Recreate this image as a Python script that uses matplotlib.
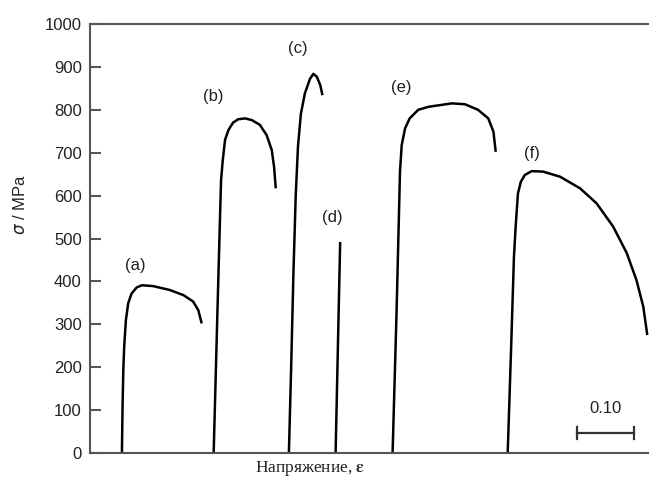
import matplotlib
matplotlib.use("Agg")
import matplotlib.pyplot as plt

# strain (shifted so the curves sit side by side) and stress in MPa
strain_a = [0.056, 0.057, 0.0584, 0.060, 0.063, 0.067, 0.073, 0.082, 0.091, 0.111, 0.140, 0.164, 0.181, 0.190, 0.196]
stress_a = [0, 100, 193, 248, 310, 349, 372, 386, 391, 389, 380, 368, 353, 333, 302]

strain_b = [0.217, 0.223, 0.229, 0.230, 0.233, 0.237, 0.243, 0.251, 0.260, 0.272, 0.284, 0.298, 0.310, 0.319, 0.323, 0.326]
stress_b = [0, 300, 590, 636, 683, 730, 753, 770, 778, 780, 776, 765, 741, 706, 667, 617]

strain_c = [0.349, 0.353, 0.357, 0.361, 0.365, 0.370, 0.377, 0.386, 0.392, 0.398, 0.404, 0.408]
stress_c = [0, 200, 420, 600, 715, 790, 838, 872, 884, 877, 858, 834]

strain_d = [0.431, 0.439]
stress_d = [0, 492]

strain_e = [0.531, 0.538, 0.544, 0.547, 0.553, 0.561, 0.576, 0.594, 0.635, 0.658, 0.681, 0.699, 0.708, 0.712]
stress_e = [0, 330, 656, 718, 757, 780, 800, 807, 815, 813, 800, 780, 749, 702]

strain_f = [0.733, 0.739, 0.744, 0.747, 0.751, 0.756, 0.763, 0.775, 0.795, 0.825, 0.860, 0.889, 0.918, 0.942, 0.959, 0.971, 0.978]
stress_f = [0, 244, 458, 528, 605, 632, 648, 657, 656, 644, 617, 582, 528, 466, 403, 341, 275]

curves = [(strain_a, stress_a), (strain_b, stress_b), (strain_c, stress_c),
          (strain_d, stress_d), (strain_e, stress_e), (strain_f, stress_f)]

labels = ['(a)', '(b)', '(c)', '(d)', '(e)', '(f)']
label_x = [0.079, 0.216, 0.365, 0.426, 0.547, 0.775]
label_y = [438, 830, 944, 550, 851, 699]

yticks = list(range(0, 1001, 100))

plt.rcParams['font.family'] = ['Liberation Sans', 'DejaVu Sans']
text_col = '#222222'
spine_col = '#555555'

fig = plt.figure(figsize=(6.49, 4.87), dpi=100)
ax = fig.add_axes([0.1387, 0.0698, 0.8613, 0.8809])

for x, y in curves:
    ax.plot(x, y, color='black', lw=1.8, solid_joinstyle='round', solid_capstyle='butt')

for lab, lx, ly in zip(labels, label_x, label_y):
    ax.text(lx, ly, lab, fontsize=12, color=text_col, ha='center', va='center')

# scale bar for 0.10 strain
ax.plot([0.854, 0.954], [47, 47], color='#333333', lw=1.6)
ax.plot([0.854, 0.854], [33, 61], color='#333333', lw=1.6)
ax.plot([0.954, 0.954], [33, 61], color='#333333', lw=1.6)
ax.text(0.904, 103, '0.10', fontsize=12, color=text_col, ha='center', va='center')

ax.set_xlim(0, 0.981)
ax.set_ylim(0, 1000)
ax.set_yticks(yticks)
ax.set_xticks([])
ax.tick_params(axis='y', direction='in', length=8, width=1.5, color=spine_col,
               labelsize=12, labelcolor=text_col, pad=6)

ax.spines['right'].set_visible(False)
for s in ['left', 'bottom', 'top']:
    ax.spines[s].set_color(spine_col)
    ax.spines[s].set_linewidth(1.5)

fig.text(20 / 649, 1 - 205 / 487, r'$\sigma$ / MPa', rotation=90, fontsize=12,
         color=text_col, ha='center', va='center')
fig.text(310 / 649, 1 - 468 / 487, 'Напряжение, $\\boldsymbol{\\varepsilon}$', fontsize=12.5,
         family=['Liberation Serif', 'DejaVu Serif'], math_fontfamily='stix',
         color=text_col, ha='center', va='center')

fig.savefig('out.png', dpi=100)
